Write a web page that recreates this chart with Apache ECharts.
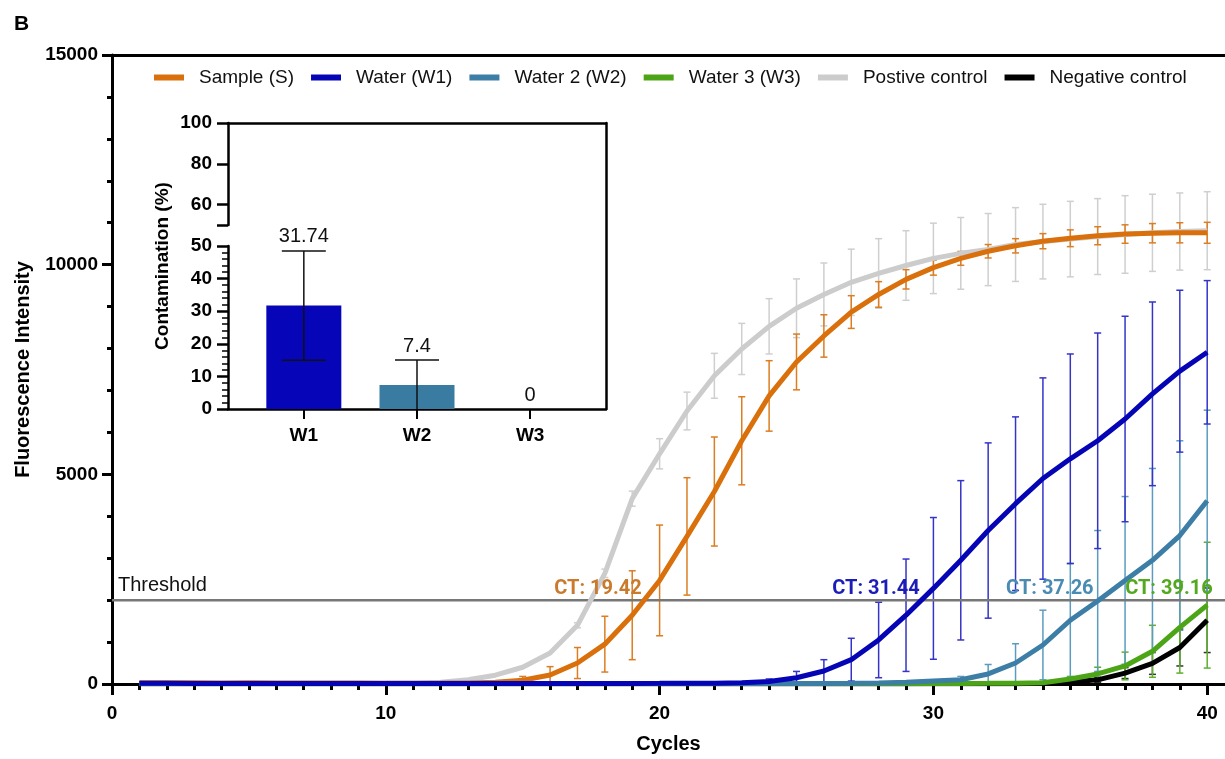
<!DOCTYPE html>
<html>
<head>
<meta charset="utf-8">
<title>Contamination qPCR</title>
<script src="https://cdn.jsdelivr.net/npm/echarts@6/dist/echarts.min.js"></script>
<style>
    html, body { margin: 0; padding: 0; background: #fff; }
    #main { width: 1225px; height: 759px; }
</style>
</head>
<body>
<div id="main"></div>
<script>
// amplification curves, cycles 1..40
var cycles = [1, 2, 3, 4, 5, 6, 7, 8, 9, 10, 11, 12, 13, 14, 15, 16, 17, 18, 19, 20,
    21, 22, 23, 24, 25, 26, 27, 28, 29, 30, 31, 32, 33, 34, 35, 36, 37, 38, 39, 40];

var sample = [30, 28, 30, 26, 28, 25, 24, 22, 22, 20, 20, 22, 25, 40, 90, 214, 500, 950, 1640, 2470,
    3520, 4590, 5800, 6870, 7680, 8300, 8870, 9290, 9650, 9930, 10150, 10320, 10450, 10560, 10630, 10690, 10730, 10750, 10760, 10760];
var sampleSd = [0, 0, 0, 0, 0, 0, 0, 0, 0, 0, 0, 0, 0, 30, 90, 200, 370, 665, 1060, 1320,
    1400, 1300, 1050, 840, 665, 505, 390, 305, 230, 180, 165, 160, 170, 180, 200, 215, 220, 230, 240, 250];

var water1 = [15, 15, 14, 14, 13, 13, 12, 14, 14, 12, 12, 12, 12, 12, 12, 12, 13, 13, 14, 15,
    17, 20, 30, 60, 150, 310, 580, 1050, 1640, 2280, 2950, 3660, 4300, 4900, 5370, 5800, 6320, 6920, 7460, 7910];
var water1Sd = [0, 0, 0, 0, 0, 0, 0, 0, 0, 0, 0, 0, 0, 0, 0, 0, 0, 0, 0, 0,
    0, 0, 20, 60, 150, 270, 510, 900, 1340, 1690, 1900, 2090, 2070, 2400, 2500, 2570, 2450, 2190, 1930, 1710];

var water2 = [12, 12, 12, 11, 11, 11, 10, 10, 10, 10, 10, 10, 10, 10, 10, 10, 10, 10, 10, 10,
    10, 10, 10, 10, 12, 14, 18, 25, 40, 70, 100, 240, 500, 930, 1520, 1980, 2470, 2950, 3540, 4370];
var water2Sd = [0, 0, 0, 0, 0, 0, 0, 0, 0, 0, 0, 0, 0, 0, 0, 0, 0, 0, 0, 0,
    0, 0, 0, 0, 0, 0, 0, 0, 10, 30, 80, 225, 460, 830, 1360, 1680, 2000, 2190, 2260, 2160];

var water3 = [8, 8, 8, 8, 8, 8, 8, 8, 8, 8, 8, 8, 8, 8, 8, 8, 8, 8, 8, 8,
    8, 8, 8, 8, 8, 8, 8, 8, 8, 10, 12, 15, 20, 30, 120, 240, 430, 780, 1350, 1880];
var water3Sd = [0, 0, 0, 0, 0, 0, 0, 0, 0, 0, 0, 0, 0, 0, 0, 0, 0, 0, 0, 0,
    0, 0, 0, 0, 0, 0, 0, 0, 0, 0, 0, 0, 0, 20, 60, 160, 330, 620, 1090, 1500];

var positive = [20, 20, 20, 20, 20, 20, 20, 20, 20, 22, 25, 40, 100, 210, 400, 740, 1400, 2640, 4420, 5490,
    6510, 7350, 7990, 8530, 8960, 9290, 9580, 9790, 9980, 10150, 10270, 10360, 10480, 10550, 10610, 10670, 10720, 10760, 10790, 10810];
var positiveSd = [0, 0, 0, 0, 0, 0, 0, 0, 0, 0, 0, 0, 0, 0, 0, 0, 60, 100, 180, 360,
    450, 535, 610, 660, 700, 750, 790, 830, 830, 840, 855, 860, 880, 890, 900, 905, 925, 920, 920, 930];

var negative = [5, 5, 5, 5, 5, 5, 5, 5, 5, 5, 5, 5, 5, 5, 5, 5, 5, 5, 5, 5,
    5, 5, 5, 5, 5, 5, 5, 5, 5, 5, 5, 5, 8, 15, 50, 100, 260, 490, 870, 1520];
var negativeSd = [0, 0, 0, 0, 0, 0, 0, 0, 0, 0, 0, 0, 0, 0, 0, 0, 0, 0, 0, 0,
    0, 0, 0, 0, 0, 0, 0, 0, 0, 0, 0, 0, 0, 0, 0, 60, 130, 260, 440, 770];

var threshold = 2000;
var ctText = ['CT: 19.42', 'CT: 31.44', 'CT: 37.26', 'CT: 39.16'];
var ctAt = [19.35, 29.5, 35.85, 40.2];
var ctColors = ['#c97a2c', '#1c1cb8', '#4a8bb2', '#52a81e'];

// inset: contamination %
var insetCats = ['W1', 'W2', 'W3'];
var contamination = [31.74, 7.4, 0];
var contaminationSd = [16.76, 7.6, 0];

var chart = echarts.init(document.getElementById('main'));

var FONT = '"Liberation Sans", Arial, sans-serif';

function pack(means, sds) {
    return cycles.map(function (c, i) { return [c, means[i], sds[i]]; });
}

function errorBars(color, half) {
    return function (params, api) {
        var x = api.value(0), m = api.value(1), sd = api.value(2);
        if (!sd) return null;
        var lowVal = m - sd;
        var hi = api.coord([x, m + sd]);
        var lo = api.coord([x, Math.max(lowVal, 0)]);
        var st = { stroke: color, lineWidth: 1.5 };
        var kids = [
            { type: 'line', shape: { x1: hi[0], y1: hi[1], x2: lo[0], y2: lo[1] }, style: st },
            { type: 'line', shape: { x1: hi[0] - half, y1: hi[1], x2: hi[0] + half, y2: hi[1] }, style: st }
        ];
        if (lowVal > 0) {
            kids.push({ type: 'line', shape: { x1: lo[0] - half, y1: lo[1], x2: lo[0] + half, y2: lo[1] }, style: st });
        }
        return { type: 'group', children: kids };
    };
}

var curves = [
    { name: 'Postive control', data: positive, sd: positiveSd, color: '#cccccc', err: '#cfcfcf' },
    { name: 'Sample (S)', data: sample, sd: sampleSd, color: '#d9700b', err: '#dc7d22' },
    { name: 'Negative control', data: negative, sd: negativeSd, color: '#000000', err: '#333333' },
    { name: 'Water 3 (W3)', data: water3, sd: water3Sd, color: '#4ca516', err: '#5eb02c' },
    { name: 'Water 2 (W2)', data: water2, sd: water2Sd, color: '#3d7ea6', err: '#5b9bc0' },
    { name: 'Water (W1)', data: water1, sd: water1Sd, color: '#0505b5', err: '#3434c8' }
];

var series = [];
curves.forEach(function (cv, k) {
    series.push({
        name: cv.name + ' err',
        type: 'custom',
        xAxisIndex: 0, yAxisIndex: 0,
        renderItem: errorBars(cv.err, 3.5),
        data: pack(cv.data, cv.sd),
        z: 2 + k * 0.01,
        silent: true
    });
});
curves.forEach(function (cv, k) {
    series.push({
        name: cv.name,
        type: 'line',
        xAxisIndex: 0, yAxisIndex: 0,
        data: cycles.map(function (c, i) { return [c, cv.data[i]]; }),
        symbol: 'none',
        color: cv.color,
        lineStyle: { color: cv.color, width: 5 },
        z: 3 + k * 0.01
    });
});

// threshold line with its labels
series.push({
    name: 'Threshold',
    type: 'line',
    xAxisIndex: 0, yAxisIndex: 0,
    data: [[0, threshold], [40.65, threshold]],
    symbol: 'none',
    lineStyle: { color: '#777777', width: 2.5 },
    z: 2.5,
    silent: true,
    markPoint: {
        symbol: 'circle',
        symbolSize: 0,
        silent: true,
        data: [{
            coord: [0, threshold],
            label: { show: true, formatter: 'Threshold', position: 'right', distance: 6, offset: [0, -15],
                color: '#111', fontSize: 20, fontFamily: FONT }
        }].concat(ctText.map(function (t, i) {
            return {
                coord: [ctAt[i], threshold],
                label: { show: true, formatter: t, position: 'left', distance: 0, offset: [0, -11],
                    color: ctColors[i], fontSize: 20, fontWeight: 'bold', fontFamily: 'Roboto, sans-serif' }
            };
        }))
    }
});

// inset bars
var barColors = ['#0606b8', '#3a7ba2', '#3a7ba2'];
series.push({
    name: 'Contamination',
    type: 'bar',
    xAxisIndex: 5, yAxisIndex: 4,
    barWidth: 75,
    data: contamination.map(function (v, i) {
        return { value: [i, v], itemStyle: { color: barColors[i] } };
    }),
    z: 5
});
series.push({
    name: 'Contamination err',
    type: 'custom',
    xAxisIndex: 5, yAxisIndex: 4,
    clip: false,
    data: contamination.map(function (v, i) { return [i, v, contaminationSd[i]]; }),
    renderItem: function (params, api) {
        var x = api.value(0), m = api.value(1), sd = api.value(2);
        var hi = api.coord([x, m + sd]);
        var lowVal = m - sd;
        var lo = api.coord([x, Math.max(lowVal, 0)]);
        var st = { stroke: '#111', lineWidth: 1.5 };
        var kids = [];
        if (sd) {
            kids.push({ type: 'line', shape: { x1: hi[0], y1: hi[1], x2: lo[0], y2: lo[1] }, style: st });
            kids.push({ type: 'line', shape: { x1: hi[0] - 22, y1: hi[1], x2: hi[0] + 22, y2: hi[1] }, style: st });
            if (lowVal > 0) {
                kids.push({ type: 'line', shape: { x1: lo[0] - 22, y1: lo[1], x2: lo[0] + 22, y2: lo[1] }, style: st });
            }
        }
        kids.push({
            type: 'text',
            style: { x: hi[0], y: hi[1] - 4, text: String(m), textAlign: 'center', textVerticalAlign: 'bottom',
                fill: '#111', fontSize: 20, fontFamily: FONT }
        });
        return { type: 'group', children: kids };
    },
    z: 6
});

chart.setOption({
    animation: false,
    backgroundColor: '#fff',
    title: {
        text: 'B', left: 9, top: 9,
        textStyle: { fontSize: 21, fontWeight: 'bold', fontFamily: FONT, color: '#000' }
    },
    legend: {
        data: ['Sample (S)', 'Water (W1)', 'Water 2 (W2)', 'Water 3 (W3)', 'Postive control', 'Negative control'],
        left: 149, top: 63,
        icon: 'rect',
        itemWidth: 30, itemHeight: 6, itemGap: 17,
        textStyle: { fontSize: 19, fontFamily: FONT, color: '#111', padding: [0, 0, 0, 10] }
    },
    grid: [
        { left: 112, right: 0, top: 55, bottom: 73 },
        { left: 228, right: 619, top: 123, bottom: 350 },
        { left: 228, right: 619, top: 123, height: 102 },
        { left: 228, right: 619, top: 246, bottom: 350 }
    ],
    xAxis: [
        {
            gridIndex: 0, type: 'value', min: 0, max: 40.65, position: 'bottom',
            name: 'Cycles', nameLocation: 'middle', nameGap: 50,
            nameTextStyle: { fontSize: 20, fontWeight: 'bold', fontFamily: FONT, color: '#000' },
            axisLine: { onZero: false, lineStyle: { color: '#000', width: 3 } },
            axisTick: { customValues: [0, 10, 20, 30, 40], length: 11, lineStyle: { color: '#000', width: 3 } },
            axisLabel: { customValues: [0, 10, 20, 30, 40], margin: 20, fontSize: 19, fontWeight: 'bold', fontFamily: FONT, color: '#000' },
            splitLine: { show: false }
        },
        {
            gridIndex: 0, type: 'value', min: 0, max: 40.65, position: 'bottom',
            axisLine: { show: false, onZero: false },
            axisTick: { customValues: cycles, length: 6, lineStyle: { color: '#000', width: 3 } },
            axisLabel: { show: false },
            splitLine: { show: false }
        },
        {
            gridIndex: 0, type: 'value', min: 0, max: 40.65, position: 'top',
            axisLine: { onZero: false, lineStyle: { color: '#000', width: 3 } },
            axisTick: { show: false }, axisLabel: { show: false }, splitLine: { show: false }
        },
        {
            gridIndex: 1, type: 'value', min: 0, max: 1, position: 'top',
            axisLine: { onZero: false, lineStyle: { color: '#000', width: 2.5 } },
            axisTick: { show: false }, axisLabel: { show: false }, splitLine: { show: false }
        },
        {
            gridIndex: 2, type: 'value', min: -0.67, max: 2.67, show: false
        },
        {
            gridIndex: 3, type: 'value', min: -0.67, max: 2.67, position: 'bottom',
            axisLine: { onZero: false, lineStyle: { color: '#000', width: 2.5 } },
            axisTick: { customValues: [0, 1, 2], length: 10, lineStyle: { color: '#000', width: 2 } },
            axisLabel: {
                customValues: [0, 1, 2], margin: 17, fontSize: 19, fontWeight: 'bold', fontFamily: FONT, color: '#000',
                formatter: function (v) { return insetCats[Math.round(v)]; }
            },
            splitLine: { show: false }
        }
    ],
    yAxis: [
        {
            gridIndex: 0, type: 'value', min: 0, max: 15000, interval: 5000,
            name: 'Fluorescence Intensity', nameLocation: 'middle', nameGap: 79,
            nameTextStyle: { fontSize: 20, fontWeight: 'bold', fontFamily: FONT, color: '#000' },
            axisLine: { show: true, onZero: false, lineStyle: { color: '#000', width: 3 } },
            axisTick: { show: true, length: 10, lineStyle: { color: '#000', width: 3 } },
            minorTick: { show: true, splitNumber: 5, length: 5, lineStyle: { color: '#000', width: 3 } },
            axisLabel: {
                margin: 14, fontSize: 19, fontWeight: 'bold', fontFamily: FONT, color: '#000',
                formatter: function (v) { return String(v); }
            },
            splitLine: { show: false }
        },
        {
            gridIndex: 1, type: 'value', min: 0, max: 1, position: 'right',
            axisLine: { show: true, onZero: false, lineStyle: { color: '#000', width: 2.5 } },
            axisTick: { show: false }, axisLabel: { show: false }, splitLine: { show: false }
        },
        {
            gridIndex: 1, type: 'value', min: 0, max: 1, position: 'left',
            name: 'Contamination (%)', nameLocation: 'middle', nameGap: 56,
            nameTextStyle: { fontSize: 19, fontWeight: 'bold', fontFamily: FONT, color: '#000' },
            axisLine: { show: false, onZero: false },
            axisTick: { show: false }, axisLabel: { show: false }, splitLine: { show: false }
        },
        {
            gridIndex: 2, type: 'value', min: 50, max: 100,
            axisLine: { show: true, onZero: false, lineStyle: { color: '#000', width: 2.5 } },
            axisTick: { show: true, customValues: [50, 60, 80, 100], length: 11, lineStyle: { color: '#000', width: 2.5 } },
            axisLabel: { customValues: [60, 80, 100], margin: 16, fontSize: 19, fontWeight: 'bold', fontFamily: FONT, color: '#000' },
            splitLine: { show: false }
        },
        {
            gridIndex: 3, type: 'value', min: 0, max: 50, interval: 10,
            axisLine: { show: true, onZero: false, lineStyle: { color: '#000', width: 2.5 } },
            axisTick: { show: true, length: 11, lineStyle: { color: '#000', width: 2.5 } },
            minorTick: { show: true, splitNumber: 5, length: 6, lineStyle: { color: '#000', width: 1.5 } },
            axisLabel: { margin: 16, fontSize: 19, fontWeight: 'bold', fontFamily: FONT, color: '#000' },
            splitLine: { show: false }
        }
    ],
    series: series
});
</script>
</body>
</html>
